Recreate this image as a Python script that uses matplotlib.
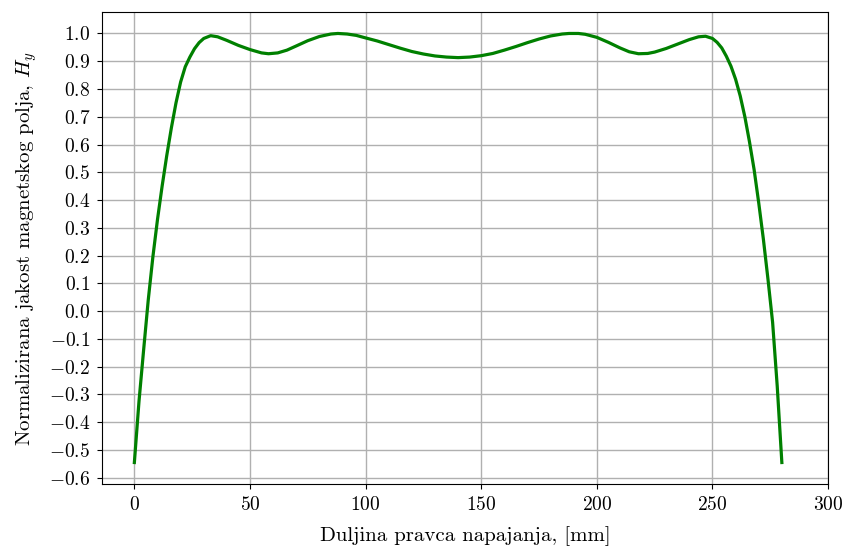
import numpy as np
import matplotlib
matplotlib.use('Agg')
import matplotlib.pyplot as plt

plt.rcParams['font.family'] = 'cmr10'
plt.rcParams['mathtext.fontset'] = 'cm'
plt.rcParams['axes.formatter.use_mathtext'] = True
plt.rcParams['axes.unicode_minus'] = True

# duljina [mm] i normalizirana jakost polja
x_mm = [0, 2, 4, 6, 8, 10, 12, 14, 16, 18, 20, 22, 24, 26, 28, 30, 33, 36, 40,
        45, 50, 55, 58, 62, 66, 70, 75, 80, 85, 88, 92, 96, 100, 105, 110, 115,
        120, 125, 130, 135, 140, 145, 150, 155, 160, 165, 170, 175, 180, 185,
        188, 192, 195, 200, 205, 210, 214, 218, 222, 225, 230, 235, 240, 244,
        247, 250, 252, 254, 256, 258, 260, 262, 264, 266, 268, 270, 272, 274,
        276, 278, 280]
h_y = [-0.545, -0.325, -0.14, 0.04, 0.195, 0.33, 0.45, 0.56, 0.66, 0.75, 0.825,
       0.88, 0.915, 0.945, 0.967, 0.982, 0.992, 0.988, 0.975,
       0.957, 0.942, 0.930, 0.927, 0.930, 0.940, 0.955, 0.974, 0.989, 0.998,
       1.0, 0.998, 0.993, 0.984, 0.973, 0.960, 0.947,
       0.935, 0.926, 0.919, 0.915, 0.913, 0.915, 0.920, 0.928, 0.940, 0.953,
       0.967, 0.980, 0.991, 0.998, 1.0, 1.0, 0.997, 0.986, 0.968, 0.948,
       0.934, 0.927, 0.928, 0.933, 0.946, 0.962, 0.978, 0.988, 0.990, 0.982,
       0.968, 0.948, 0.918, 0.882, 0.835, 0.775, 0.70, 0.61, 0.51, 0.39, 0.26,
       0.115, -0.04, -0.27, -0.545]

fig, ax = plt.subplots(figsize=(8.45, 5.46), dpi=100)
fig.subplots_adjust(left=0.1207, right=0.98, top=0.978, bottom=0.1136)

ax.plot(x_mm, h_y, color='green', lw=2.3, zorder=3)
ax.set_xticks(np.arange(0, 301, 50))
ax.set_yticks(np.round(np.arange(-0.6, 1.01, 0.1), 1))
ax.grid(True, color='#b0b0b0', lw=1)
ax.tick_params(labelsize=14, pad=5)
ax.set_xlabel('Duljina pravca napajanja, [mm]', fontsize=15, labelpad=9)
ax.set_ylabel('Normalizirana jakost magnetskog polja, $H_y$', fontsize=15,
              labelpad=7)

fig.savefig('out.png', dpi=100)
